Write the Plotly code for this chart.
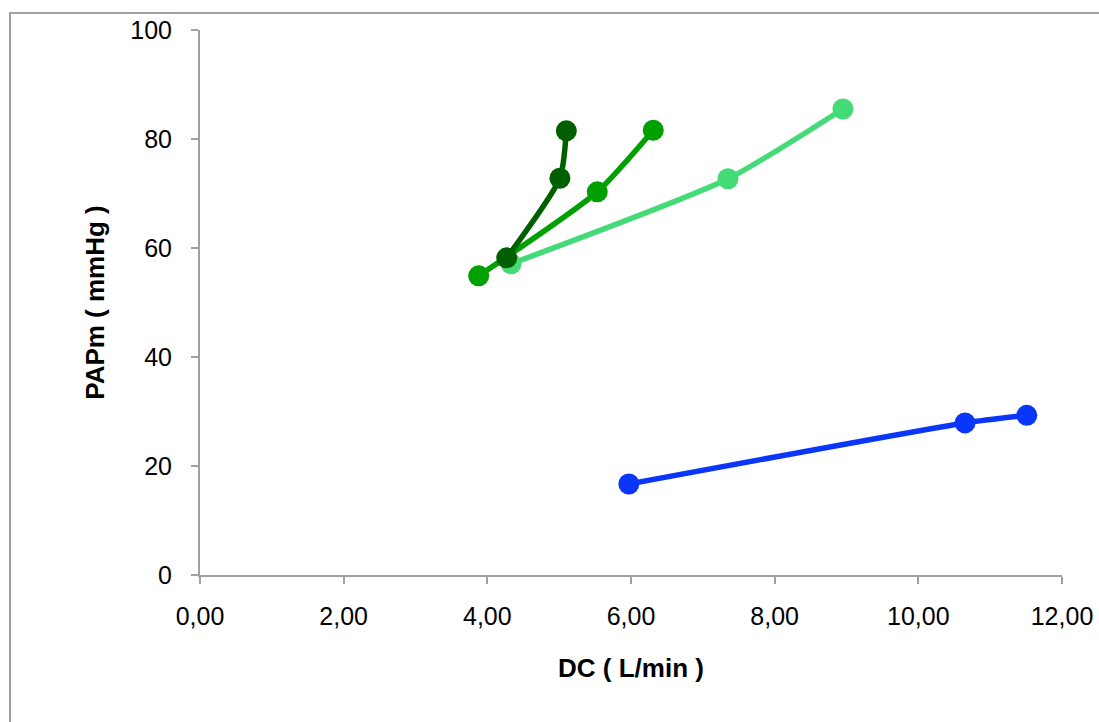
import plotly.graph_objects as go

# Cardiac output (L/min) vs mean pulmonary arterial pressure (mmHg)
blue_dc = [5.97, 10.65, 11.51]
blue_pap = [16.7, 27.9, 29.3]

light_dc = [4.33, 7.35, 8.95]
light_pap = [57.1, 72.7, 85.5]

mid_dc = [3.88, 5.53, 6.31]
mid_pap = [54.9, 70.3, 81.6]

dark_dc = [4.27, 5.01, 5.10]
dark_pap = [58.2, 72.8, 81.5]

x_ticks = [0, 2, 4, 6, 8, 10, 12]
x_tick_text = ["0,00", "2,00", "4,00", "6,00", "8,00", "10,00", "12,00"]
y_ticks = [0, 20, 40, 60, 80, 100]

series = [
    (blue_dc, blue_pap, "#0A36FA"),
    (light_dc, light_pap, "#45DA78"),
    (mid_dc, mid_pap, "#00A000"),
    (dark_dc, dark_pap, "#005F00"),
]

fig = go.Figure()
for xs, ys, color in series:
    fig.add_trace(go.Scatter(
        x=xs, y=ys, mode="lines+markers",
        line=dict(color=color, width=5.5, shape="spline", smoothing=0.6),
        marker=dict(color=color, size=21),
        showlegend=False,
    ))

W, H = 1099, 722
L, R, T, B = 200, 37, 30, 147
pw, ph = W - L - R, H - T - B

# outer chart frame (left and top edges visible)
fig.add_shape(
    type="rect", xref="paper", yref="paper",
    x0=(10 - L) / pw, x1=(1110 - L) / pw,
    y0=-(740 - (H - B)) / ph, y1=((H - B) - 13) / ph,
    line=dict(color="#A0A0A0", width=2), fillcolor="rgba(0,0,0,0)",
    layer="below",
)

axis_font = dict(family="Liberation Sans, Arial, sans-serif", size=25, color="#000")
title_font = dict(family="Liberation Sans, Arial, sans-serif", size=26, color="#000")

fig.update_layout(
    width=W, height=H,
    margin=dict(l=L, r=R, t=T, b=B, pad=0),
    paper_bgcolor="white", plot_bgcolor="white",
    xaxis=dict(
        range=[0, 12], tickvals=x_ticks, ticktext=x_tick_text,
        showgrid=False, zeroline=False, automargin=False,
        showline=True, linecolor="#A0A0A0", linewidth=2,
        ticks="outside", ticklen=7, tickcolor="#A0A0A0", tickwidth=2,
        tickfont=axis_font, ticklabelstandoff=11,
        title=dict(text="<b>DC ( L/min )</b>", font=title_font, standoff=30),
    ),
    yaxis=dict(
        range=[0, 100], tickvals=y_ticks,
        showgrid=False, zeroline=False, automargin=False,
        showline=True, linecolor="#A0A0A0", linewidth=2,
        ticks="outside", ticklen=7, tickcolor="#A0A0A0", tickwidth=2,
        tickfont=axis_font, ticklabelstandoff=14,
        title=dict(text="<b>PAPm ( mmHg )</b>", font=title_font, standoff=18),
    ),
)

fig.write_html("out.html")
